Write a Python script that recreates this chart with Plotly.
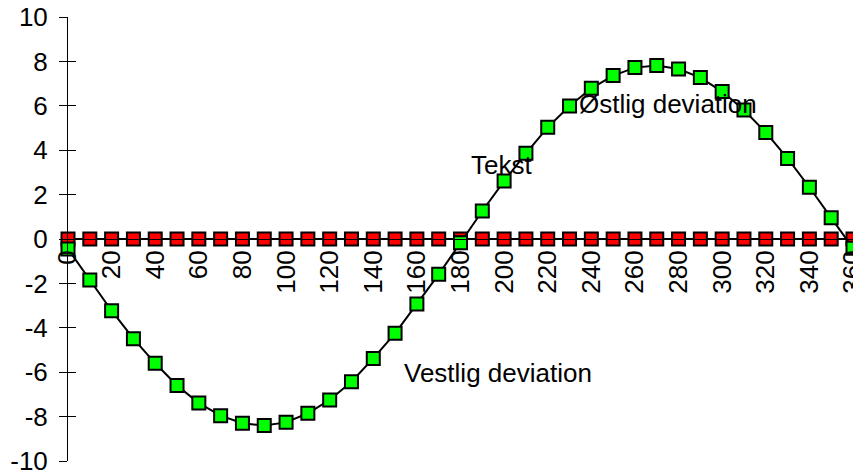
import plotly.graph_objects as go

# ── data ──────────────────────────────────────────────────────────────────────
kurs = list(range(0, 361, 10))
deviation = [
    -0.45, -1.85, -3.23, -4.49, -5.60, -6.60, -7.39, -7.96, -8.30, -8.40,
    -8.26, -7.85, -7.25, -6.43, -5.38, -4.25, -2.93, -1.59, -0.17, 1.26,
    2.61, 3.86, 5.03, 5.99, 6.79, 7.36, 7.72, 7.81, 7.66, 7.27,
    6.64, 5.81, 4.80, 3.63, 2.33, 0.96, -0.42,
]
nul_linje = [0] * len(kurs)

x_tickvals = list(range(0, 361, 20))
x_ticktext = [str(v) for v in x_tickvals]
y_tickvals = list(range(-10, 11, 2))
y_ticktext = [str(v) for v in y_tickvals]   # plain hyphen minus, like the original

labels = ["Tekst", "Østlig deviation", "Vestlig deviation"]
label_x = [199, 275, 197]
label_y = [3.35, 6.1, -6.05]

_FONT = "Liberation Sans, Arial, sans-serif"
_FS = 26

fig = go.Figure()

# zero reference (red), drawn first so the deviation curve sits on top
fig.add_trace(go.Scatter(
    x=kurs, y=nul_linje, mode="lines+markers",
    line=dict(color="black", width=2),
    marker=dict(symbol="square", size=13, color="#ff0000",
                line=dict(color="black", width=2)),
    cliponaxis=False, showlegend=False,
))
fig.add_trace(go.Scatter(
    x=kurs, y=deviation, mode="lines+markers",
    line=dict(color="black", width=2),
    marker=dict(symbol="square", size=13, color="#00ff00",
                line=dict(color="black", width=2)),
    cliponaxis=False, showlegend=False,
))
# dummy trace to activate the second y axis (for crossing tick marks)
fig.add_trace(go.Scatter(x=[None], y=[None], yaxis="y2", showlegend=False,
                         hoverinfo="skip"))

for txt, xv, yv in zip(labels, label_x, label_y):
    fig.add_annotation(x=xv, y=yv, text=txt, showarrow=False,
                       font=dict(family=_FONT, size=_FS, color="black"))

# the page body has an 8px margin, so the figure is 8px smaller than the window
fig.update_layout(
    width=853, height=468,
    paper_bgcolor="white", plot_bgcolor="white",
    font=dict(family=_FONT, size=_FS, color="black"),
    margin=dict(l=60, r=8, t=9, b=15, autoexpand=False),
    xaxis=dict(
        range=[0, 360], anchor="free", position=0.5, automargin=False,
        tickmode="array", tickvals=x_tickvals, ticktext=x_ticktext,
        tickangle=-90, ticks="", showgrid=False, zeroline=False,
        ticklabeloverflow="allow",
        showline=True, linecolor="black", linewidth=1,
    ),
    yaxis=dict(
        range=[-10, 10], automargin=False,
        tickmode="array", tickvals=y_tickvals, ticktext=y_ticktext,
        ticks="outside", ticklen=8, tickcolor="black", ticklabelstandoff=6,
        ticklabeloverflow="allow",
        showgrid=False, zeroline=False,
        showline=True, linecolor="black", linewidth=1,
    ),
    yaxis2=dict(
        range=[-10, 10], overlaying="y", side="left", anchor="x",
        automargin=False,
        tickmode="array", tickvals=y_tickvals,
        ticks="inside", ticklen=8, tickcolor="black",
        showticklabels=False, showgrid=False, zeroline=False, showline=False,
    ),
)

fig.write_html("out.html")
